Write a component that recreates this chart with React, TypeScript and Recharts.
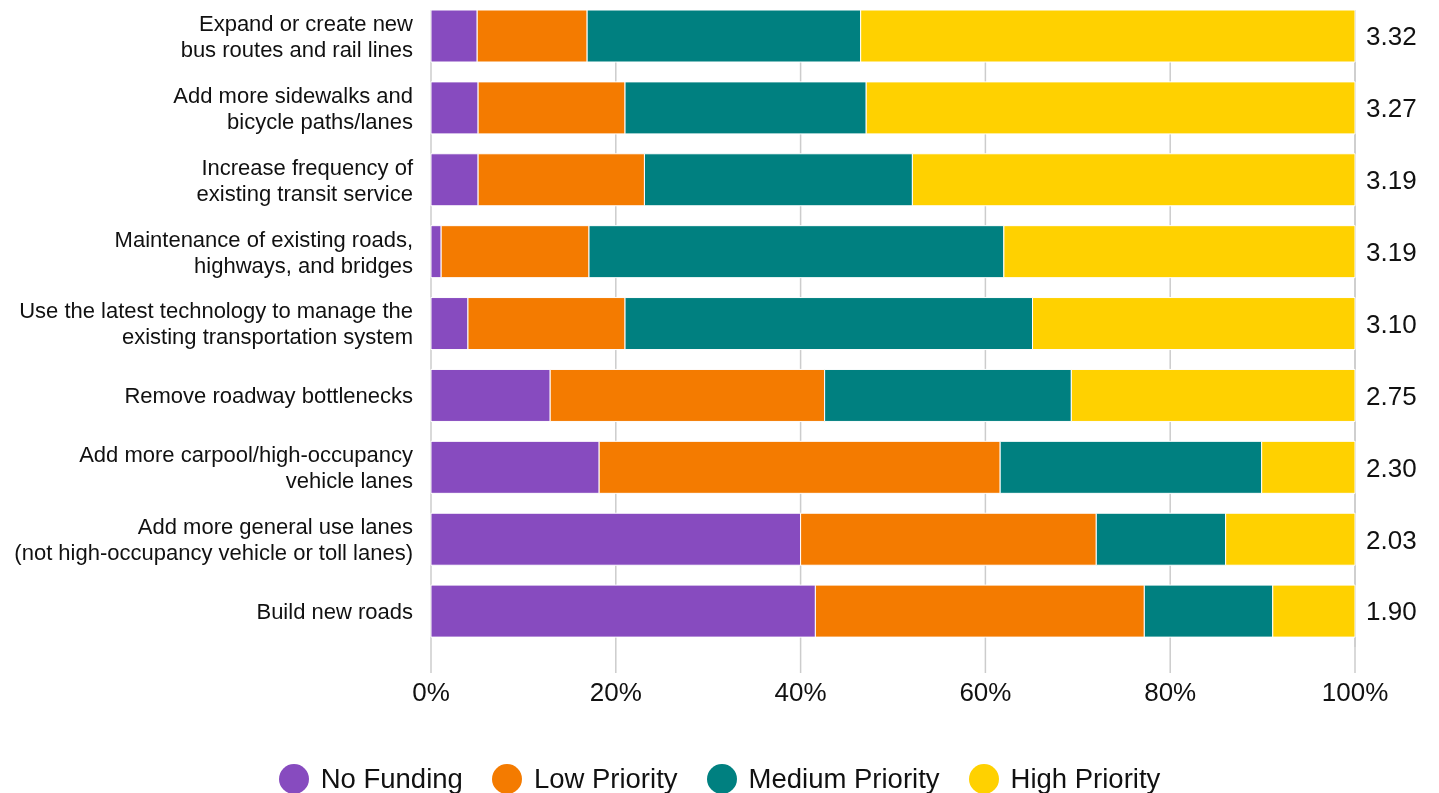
import { BarChart, Bar, XAxis, YAxis, CartesianGrid, Legend } from 'recharts';

const CATEGORIES = [
  'Expand or create new\nbus routes and rail lines',
  'Add more sidewalks and\nbicycle paths/lanes',
  'Increase frequency of\nexisting transit service',
  'Maintenance of existing roads,\nhighways, and bridges',
  'Use the latest technology to manage the\nexisting transportation system',
  'Remove roadway bottlenecks',
  'Add more carpool/high-occupancy\nvehicle lanes',
  'Add more general use lanes\n(not high-occupancy vehicle or toll lanes)',
  'Build new roads',
];

const NO_FUNDING = [5.0, 5.1, 5.1, 1.1, 4.0, 12.9, 18.2, 40.0, 41.6];
const LOW_PRIORITY = [11.9, 15.9, 18.0, 16.0, 17.0, 29.7, 43.4, 32.0, 35.6];
const MEDIUM_PRIORITY = [29.6, 26.1, 29.0, 44.9, 44.1, 26.7, 28.3, 14.0, 13.9];
const HIGH_PRIORITY = [53.5, 52.9, 47.9, 38.0, 34.9, 30.7, 10.1, 14.0, 8.9];
const AVERAGES = ['3.32', '3.27', '3.19', '3.19', '3.10', '2.75', '2.30', '2.03', '1.90'];

const X_TICKS = [0, 20, 40, 60, 80, 100];

const SERIES = [
  { key: 'noFunding', name: 'No Funding', color: '#874BBF' },
  { key: 'low', name: 'Low Priority', color: '#F47B00' },
  { key: 'medium', name: 'Medium Priority', color: '#008080' },
  { key: 'high', name: 'High Priority', color: '#FFD100' },
];

const data = CATEGORIES.map((name, i) => ({
  name,
  noFunding: NO_FUNDING[i],
  low: LOW_PRIORITY[i],
  medium: MEDIUM_PRIORITY[i],
  high: HIGH_PRIORITY[i],
  avg: AVERAGES[i],
}));

const FONT = '"Liberation Sans", Arial, sans-serif';
const GRID = '#cccccc';

// left labels, split on \n into two lines
function CategoryTick({ x, y, payload }: any) {
  const lines = String(payload.value).split('\n');
  const lineH = 26;
  const startY = y - ((lines.length - 1) * lineH) / 2;
  return (
    <text x={x - 10} y={startY} textAnchor="end" fontSize={22} fill="#111" fontFamily={FONT}>
      {lines.map((line, i) => (
        <tspan key={i} x={x - 10} y={startY + i * lineH} dy="0.36em">
          {line}
        </tspan>
      ))}
    </text>
  );
}

// right side: mean score per row
function AvgTick({ x, y, payload }: any) {
  const row = data.find((d) => d.name === payload.value);
  return (
    <text x={x + 3} y={y} dy="0.36em" textAnchor="start" fontSize={26} fill="#111" fontFamily={FONT}>
      {row ? row.avg : ''}
    </text>
  );
}

function LegendContent() {
  return (
    <div
      style={{
        display: 'flex',
        justifyContent: 'center',
        alignItems: 'center',
        fontFamily: FONT,
        fontSize: 27.5,
        color: '#111',
      }}
    >
      {SERIES.map((s, i) => (
        <div key={s.key} style={{ display: 'flex', alignItems: 'center', marginRight: i < SERIES.length - 1 ? 29 : 0 }}>
          <span
            style={{
              display: 'inline-block',
              width: 30,
              height: 30,
              borderRadius: '50%',
              background: s.color,
              marginRight: 12,
            }}
          />
          <span>{s.name}</span>
        </div>
      ))}
    </div>
  );
}

export default function App() {
  return (
    <div style={{ position: 'fixed', top: 0, left: 8, width: 1423, height: 793, overflow: 'hidden' }}>
      <BarChart
        width={1423}
        height={800}
        data={data}
        layout="vertical"
        margin={{ top: 0, right: 0, bottom: 93, left: 0 }}
        style={{ fontFamily: FONT }}
      >
        <CartesianGrid horizontal={false} vertical y={10} height={637} stroke={GRID} strokeWidth={1.5} />
        <XAxis
          type="number"
          domain={[0, 100]}
          ticks={X_TICKS}
          tickFormatter={(v) => `${v}%`}
          axisLine={false}
          tickLine={{ stroke: GRID, strokeWidth: 1.5 }}
          tickSize={26}
          tickMargin={10}
          height={60}
          tick={{ fontSize: 26, fill: '#111', fontFamily: FONT }}
        />
        <YAxis
          yAxisId="left"
          type="category"
          dataKey="name"
          width={423}
          axisLine={false}
          tickLine={false}
          tick={<CategoryTick />}
          interval={0}
        />
        <YAxis
          yAxisId="right"
          orientation="right"
          type="category"
          dataKey="name"
          width={76}
          axisLine={false}
          tickLine={false}
          tick={<AvgTick />}
          interval={0}
        />
        {SERIES.map((s) => (
          <Bar
            key={s.key}
            yAxisId="left"
            dataKey={s.key}
            name={s.name}
            stackId="a"
            fill={s.color}
            stroke="#ffffff"
            strokeWidth={1}
            barSize={52}
            isAnimationActive={false}
          />
        ))}
        <Legend
          layout="horizontal"
          verticalAlign="middle"
          align="center"
          content={<LegendContent />}
          wrapperStyle={{ top: 763, left: 0, width: 1423 }}
        />
      </BarChart>
    </div>
  );
}
